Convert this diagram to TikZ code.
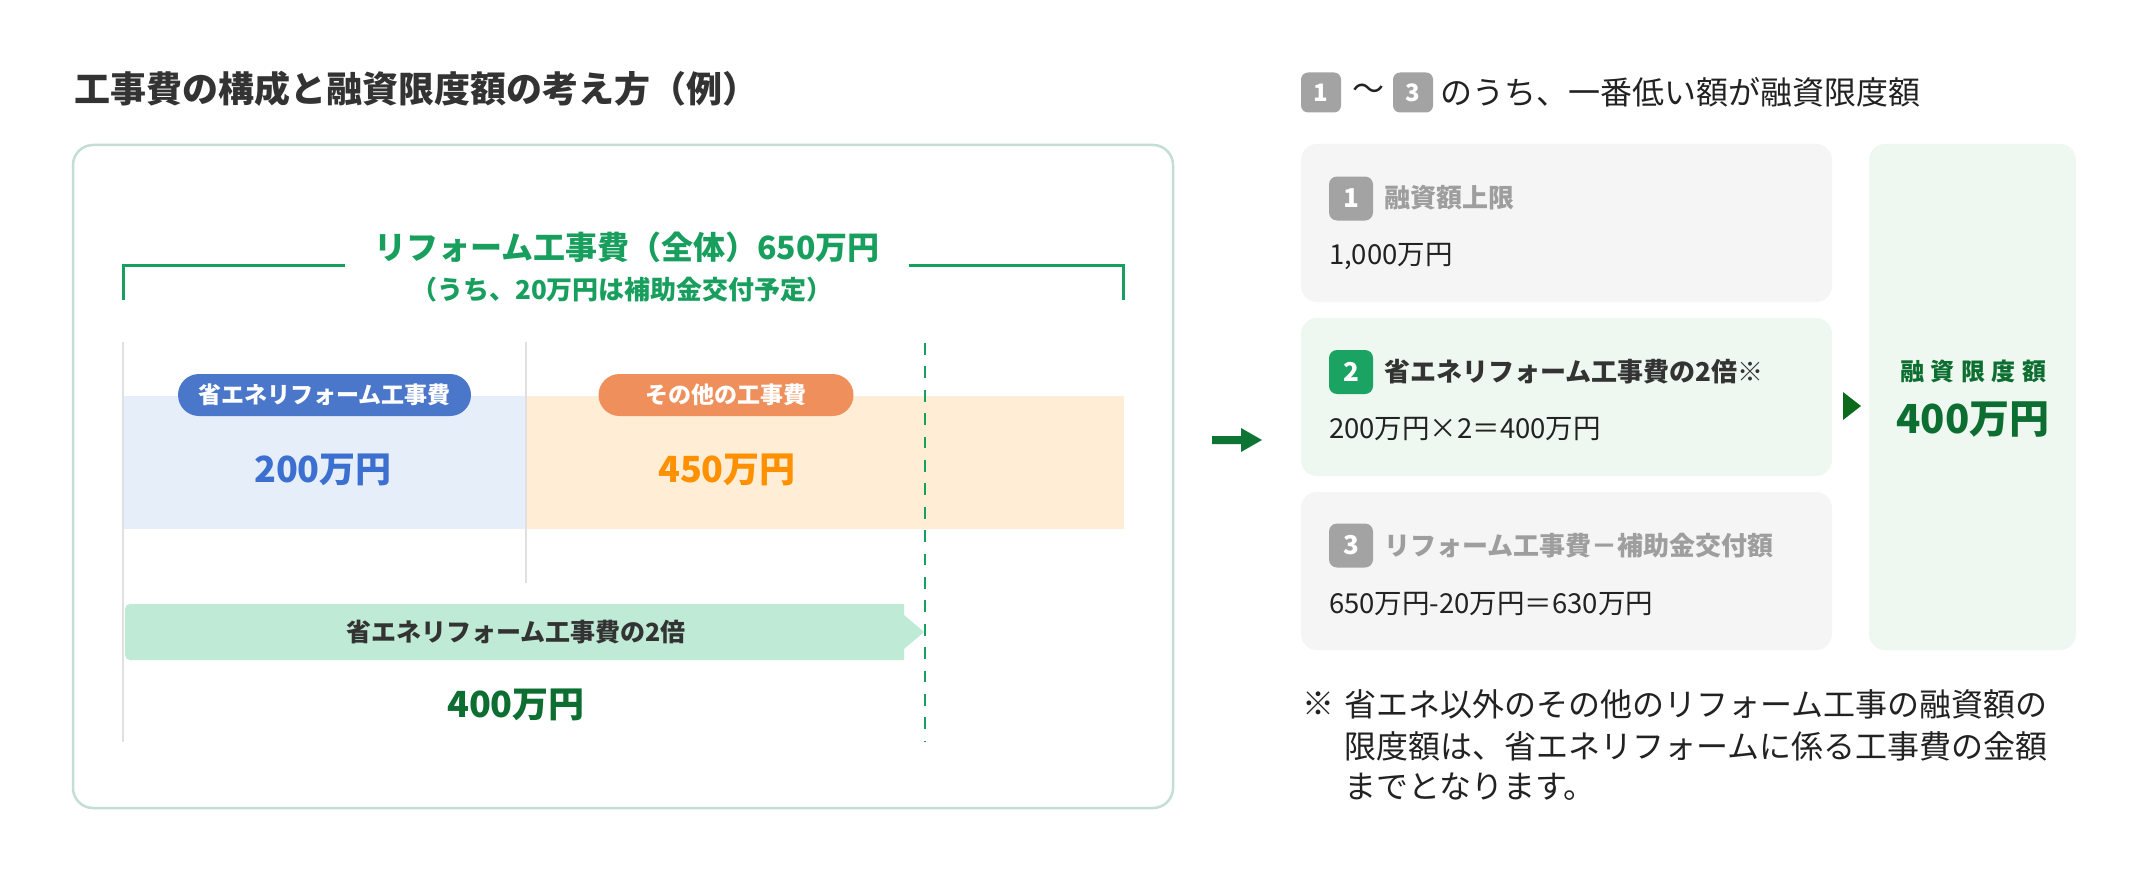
\documentclass[tikz,border=0pt]{standalone}
\usepackage{fontspec}
\setmainfont{Noto Sans CJK JP}
\newcommand\fsz[1]{\fontsize{#1pt}{#1pt}\selectfont}
\definecolor{cdark}{HTML}{333333}
\definecolor{ctext}{HTML}{222222}
\definecolor{cframe}{HTML}{C4DED4}
\definecolor{cgreen}{HTML}{189F5E}
\definecolor{cgline}{HTML}{E0E0E0}
\definecolor{cblueband}{HTML}{E6EEFA}
\definecolor{corband}{HTML}{FFEDD5}
\definecolor{cbluepill}{HTML}{4A77C9}
\definecolor{corpill}{HTML}{EF8F5C}
\definecolor{cbluetxt}{HTML}{3B6FD0}
\definecolor{cortxt}{HTML}{FF9100}
\definecolor{carrowfill}{HTML}{BFEAD6}
\definecolor{cdkgreen}{HTML}{0C6E30}
\definecolor{carrow}{HTML}{0E7434}
\definecolor{cgraybox}{HTML}{F5F5F5}
\definecolor{cgreenbox}{HTML}{EEF7F0}
\definecolor{cgraybadge}{HTML}{A3A3A3}
\definecolor{cgreenbadge}{HTML}{1AA362}
\definecolor{cgraytxt}{HTML}{9E9E9E}
\definecolor{ctri}{HTML}{0B6B1A}
\begin{document}
\begin{tikzpicture}[x=1pt,y=-1pt,
  every node/.style={inner sep=0pt, outer sep=0pt},
  pill/.style={rounded corners=21, text=white, font=\fsz{23}\bfseries, minimum height=42},
  badge/.style={rounded corners=8, text=white, font=\fsz{26}\bfseries, minimum size=44},
  hbadge/.style={rounded corners=7, text=white, fill=cgraybadge, font=\fsz{24}\bfseries, minimum size=40},
  card/.style={rounded corners=16},
  amount/.style={font=\fsz{36}\bfseries},
  bodytxt/.style={font=\fsz{27.5}, text=ctext, anchor=west},
  headtxt/.style={font=\fsz{26}\bfseries, anchor=west},
  notetxt/.style={font=\fsz{32}, text=ctext, anchor=west},
  vline/.style={cgline, line width=2}
]
\useasboundingbox[fill=white] (0,0) rectangle (2144,880);

% ---------- left part ----------
\node[font=\fsz{36}\bfseries, text=cdark, anchor=west] (title) at (74,89) {工事費の構成と融資限度額の考え方（例）};

\node[draw=cframe, line width=2.5, rounded corners=20, minimum width=1100, minimum height=663] (frame) at (623,476.5) {};

\coordinate (brL0) at (123,300);
\coordinate (brL1) at (123,265);
\coordinate (brL2) at (345,265);
\coordinate (brR0) at (1123,300);
\coordinate (brR1) at (1123,265);
\coordinate (brR2) at (909,265);
\draw[cgreen, line width=3] (brL0) -- (brL1) -- (brL2);
\draw[cgreen, line width=3] (brR0) -- (brR1) -- (brR2);

\node[font=\fsz{32}\bfseries, text=cgreen] (total) at (627,247) {リフォーム工事費（全体）650万円};
\node[font=\fsz{26}\bfseries, text=cgreen] (sub) at (622,290) {（うち、20万円は補助金交付予定）};

\fill[cblueband] (123,396) rectangle (526,529);
\fill[corband] (526,396) rectangle (1124,529);

\coordinate (v1a) at (123,342);
\coordinate (v1b) at (123,742);
\coordinate (v2a) at (526,342);
\coordinate (v2b) at (526,583);
\draw[vline] (v1a) -- (v1b);
\draw[vline] (v2a) -- (v2b);

\node[pill, fill=cbluepill, minimum width=293] (pillA) at (324.5,395) {省エネリフォーム工事費};
\node[pill, fill=corpill, minimum width=255] (pillB) at (726,395) {その他の工事費};

\node[amount, text=cbluetxt] (amtA) at (323,470) {200万円};
\node[amount, text=cortxt] (amtB) at (727,470) {450万円};

\coordinate (dsA) at (925,343);
\coordinate (dsB) at (925,742);
\draw[cgreen, line width=2.5, dash pattern=on 11.7 off 11.7] (dsA) -- (dsB);

\fill[carrowfill] (904,604) [rounded corners=5] -- (125,604) -- (125,660) [sharp corners] -- (904,660) -- (904,649) -- (924,632) -- (904,615) -- cycle;
\node[font=\fsz{25}\bfseries, text=cdark] (twice) at (516,632) {省エネリフォーム工事費の2倍};
\node[amount, text=cdkgreen] (amtC) at (516,705) {400万円};

% ---------- arrow ----------
\fill[carrow] (1212,436) -- (1241,436) -- (1241,428) -- (1262,440) -- (1241,452) -- (1241,444) -- (1212,444) -- cycle;

% ---------- right part ----------
\node[hbadge] (h1) at (1321,92.5) {1};
\node[font=\fsz{32}, text=ctext] (tilde) at (1368,92) {〜};
\node[hbadge] (h3) at (1413,92.5) {3};
\node[font=\fsz{32}, text=ctext, anchor=west] (htxt) at (1440,92) {のうち、一番低い額が融資限度額};

\node[card, fill=cgraybox, minimum width=531, minimum height=158] (box1) at (1566.5,223) {};
\node[badge, fill=cgraybadge] (b1) at (1351,198.5) {1};
\node[headtxt, text=cgraytxt] (b1t) at (1384,198) {融資額上限};
\node[bodytxt] (b1v) at (1329,256) {1,000万円};

\node[card, fill=cgreenbox, minimum width=531, minimum height=158] (box2) at (1566.5,397) {};
\node[badge, fill=cgreenbadge] (b2) at (1351,372) {2};
\node[headtxt, text=cdark] (b2t) at (1384,372) {省エネリフォーム工事費の2倍※};
\node[bodytxt] (b2v) at (1329,429) {200万円×2＝400万円};

\node[card, fill=cgraybox, minimum width=531, minimum height=158] (box3) at (1566.5,571) {};
\node[badge, fill=cgraybadge] (b3) at (1351,545.5) {3};
\node[headtxt, text=cgraytxt] (b3t) at (1384,546) {リフォーム工事費－補助金交付額};
\node[bodytxt] (b3v) at (1329,604) {650万円-20万円＝630万円};

\node[card, fill=cgreenbox, minimum width=207, minimum height=506] (res) at (1972.5,397) {};
\node[font=\fsz{24}\bfseries, text=cdkgreen] (rest) at (1973,371) {融\hspace{6.5pt}資\hspace{6.5pt}限\hspace{6.5pt}度\hspace{6.5pt}額};
\node[font=\fsz{40}\bfseries, text=cdkgreen] (resv) at (1973,420) {400万円};

\fill[ctri] (1843,392) -- (1861,406) -- (1843,420) -- cycle;

% ---------- note ----------
\node[notetxt] (nmark) at (1302,704) {※};
\node[notetxt] (n1) at (1344,704) {省エネ以外のその他のリフォーム工事の融資額の};
\node[notetxt] (n2) at (1344,746) {限度額は、省エネリフォームに係る工事費の金額};
\node[notetxt] (n3) at (1344,787) {までとなります。};
\end{tikzpicture}
\end{document}
